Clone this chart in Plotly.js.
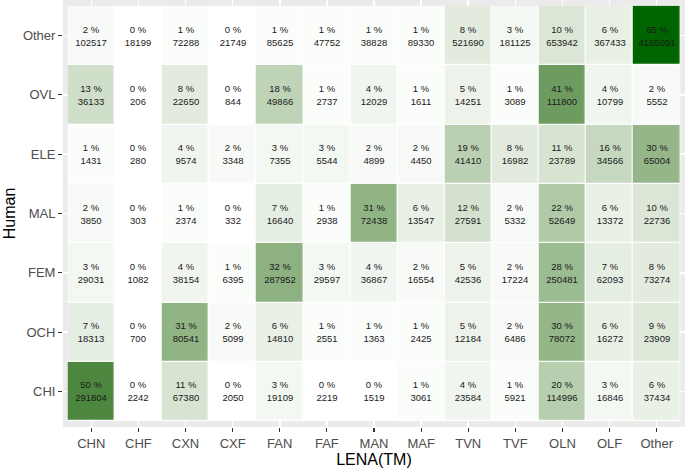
<!DOCTYPE html>
<html>
<head>
<meta charset="utf-8">
<script src="https://cdn.plot.ly/plotly-3.0.1.min.js"></script>
<style>html,body{margin:0;padding:0;background:#fff;}#chart{width:685px;height:468px;}</style>
</head>
<body>
<div id="chart"></div>
<script>
// LENA(TM) categories (x axis)
const lenaLabels = ['CHN','CHF','CXN','CXF','FAN','FAF','MAN','MAF','TVN','TVF','OLN','OLF','Other'];
// Human categories (y axis), bottom to top
const humanLabels = ['CHI','OCH','FEM','MAL','ELE','OVL','Other'];

// Row percentages (bottom to top)
const pctCHI   = [50,0,11,0,3,0,0,1,4,1,20,3,6];
const pctOCH   = [7,0,31,2,6,1,1,1,5,2,30,6,9];
const pctFEM   = [3,0,4,1,32,3,4,2,5,2,28,7,8];
const pctMAL   = [2,0,1,0,7,1,31,6,12,2,22,6,10];
const pctELE   = [1,0,4,2,3,3,2,2,19,8,11,16,30];
const pctOVL   = [13,0,8,0,18,1,4,1,5,1,41,4,2];
const pctOther = [2,0,1,0,1,1,1,1,8,3,10,6,65];

// Counts (bottom to top)
const cntCHI   = [291804,2242,67380,2050,19109,2219,1519,3061,23584,5921,114996,16846,37434];
const cntOCH   = [18313,700,80541,5099,14810,2551,1363,2425,12184,6486,78072,16272,23909];
const cntFEM   = [29031,1082,38154,6395,287952,29597,36867,16554,42536,17224,250481,62093,73274];
const cntMAL   = [3850,303,2374,332,16640,2938,72438,13547,27591,5332,52649,13372,22736];
const cntELE   = [1431,280,9574,3348,7355,5544,4899,4450,41410,16982,23789,34566,65004];
const cntOVL   = [36133,206,22650,844,49866,2737,12029,1611,14251,3089,111800,10799,5552];
const cntOther = [102517,18199,72288,21749,85625,47752,38828,89330,521690,181125,653942,367433,4165091];

const pctRows = [pctCHI,pctOCH,pctFEM,pctMAL,pctELE,pctOVL,pctOther];
const cntRows = [cntCHI,cntOCH,cntFEM,cntMAL,cntELE,cntOVL,cntOther];
const textRows = pctRows.map((r,i)=>r.map((p,j)=>p+' %<br>'+cntRows[i][j]));

// Lab interpolation white -> darkgreen (like ggplot scale_fill_gradient)
function srgbToLin(c){c/=255;return c<=0.04045?c/12.92:Math.pow((c+0.055)/1.055,2.4);}
function linToSrgb(c){c=c<=0.0031308?12.92*c:1.055*Math.pow(c,1/2.4)-0.055;return Math.max(0,Math.min(255,Math.round(c*255)));}
function rgb2lab(rgb){
  const r=srgbToLin(rgb[0]),g=srgbToLin(rgb[1]),b=srgbToLin(rgb[2]);
  let X=(0.4124*r+0.3576*g+0.1805*b)/0.95047,Y=(0.2126*r+0.7152*g+0.0722*b),Z=(0.0193*r+0.1192*g+0.9505*b)/1.08883;
  const f=t=>t>0.008856?Math.cbrt(t):7.787*t+16/116;
  const fx=f(X),fy=f(Y),fz=f(Z);
  return [116*fy-16,500*(fx-fy),200*(fy-fz)];
}
function lab2rgb(lab){
  const fy=(lab[0]+16)/116,fx=fy+lab[1]/500,fz=fy-lab[2]/200;
  const fi=t=>t>0.206893?t*t*t:(t-16/116)/7.787;
  const X=fi(fx)*0.95047,Y=fi(fy),Z=fi(fz)*1.08883;
  const r=3.2406*X-1.5372*Y-0.4986*Z,g=-0.9689*X+1.8758*Y+0.0415*Z,b=0.0557*X-0.2040*Y+1.0570*Z;
  return 'rgb('+linToSrgb(r)+','+linToSrgb(g)+','+linToSrgb(b)+')';
}
const lo=rgb2lab([255,255,255]), hi=rgb2lab([0,100,0]);
const colorscale=[];
for(let i=0;i<=20;i++){const t=i/20;colorscale.push([t,lab2rgb([lo[0]+(hi[0]-lo[0])*t,lo[1]+(hi[1]-lo[1])*t,lo[2]+(hi[2]-lo[2])*t])]);}

const trace={
  type:'heatmap',
  x:lenaLabels,
  y:humanLabels,
  z:pctRows,
  text:textRows,
  texttemplate:'%{text}',
  textfont:{family:'Liberation Sans, Arial, sans-serif',size:9.5,color:'#1a1a1a'},
  colorscale:colorscale,
  zmin:0,zmax:65,
  showscale:false,
  xgap:1.2,ygap:1.2,
  hoverinfo:'skip'
};

const tickFont={family:'Liberation Sans, Arial, sans-serif',size:13,color:'#4D4D4D'};
const titleFont={family:'Liberation Sans, Arial, sans-serif',size:16,color:'#000'};

const layout={
  width:685,height:468,
  margin:{l:63,r:0,t:0,b:41,pad:0},
  paper_bgcolor:'#fff',
  plot_bgcolor:'#EBEBEB',
  showlegend:false,
  xaxis:{
    type:'category',range:[-0.6,12.6],
    showgrid:true,gridcolor:'#fff',gridwidth:1.5,zeroline:false,showline:false,
    ticks:'outside',ticklen:4,tickwidth:1.1,tickcolor:'#333',
    tickfont:tickFont,
    title:{text:'LENA(TM)',font:titleFont,standoff:1},
    automargin:false,fixedrange:true
  },
  yaxis:{
    type:'category',range:[-0.6,6.6],
    showgrid:true,gridcolor:'#fff',gridwidth:1.5,zeroline:false,showline:false,
    ticks:'outside',ticklen:4,tickwidth:1.1,tickcolor:'#333',
    tickfont:tickFont,
    title:{text:'Human',font:titleFont,standoff:3},
    automargin:false,fixedrange:true
  },
  shapes:[
    {type:'rect',xref:'paper',yref:'paper',x0:0,x1:1,y0:0,y1:1,fillcolor:'#EBEBEB',line:{width:0},layer:'below'},
    {type:'rect',xref:'x',yref:'y',x0:-0.5,x1:12.5,y0:-0.5,y1:6.5,fillcolor:'#fff',line:{width:0},layer:'below'}
  ]
};

Plotly.newPlot('chart',[trace],layout,{displayModeBar:false,staticPlot:true});
</script>
</body>
</html>
